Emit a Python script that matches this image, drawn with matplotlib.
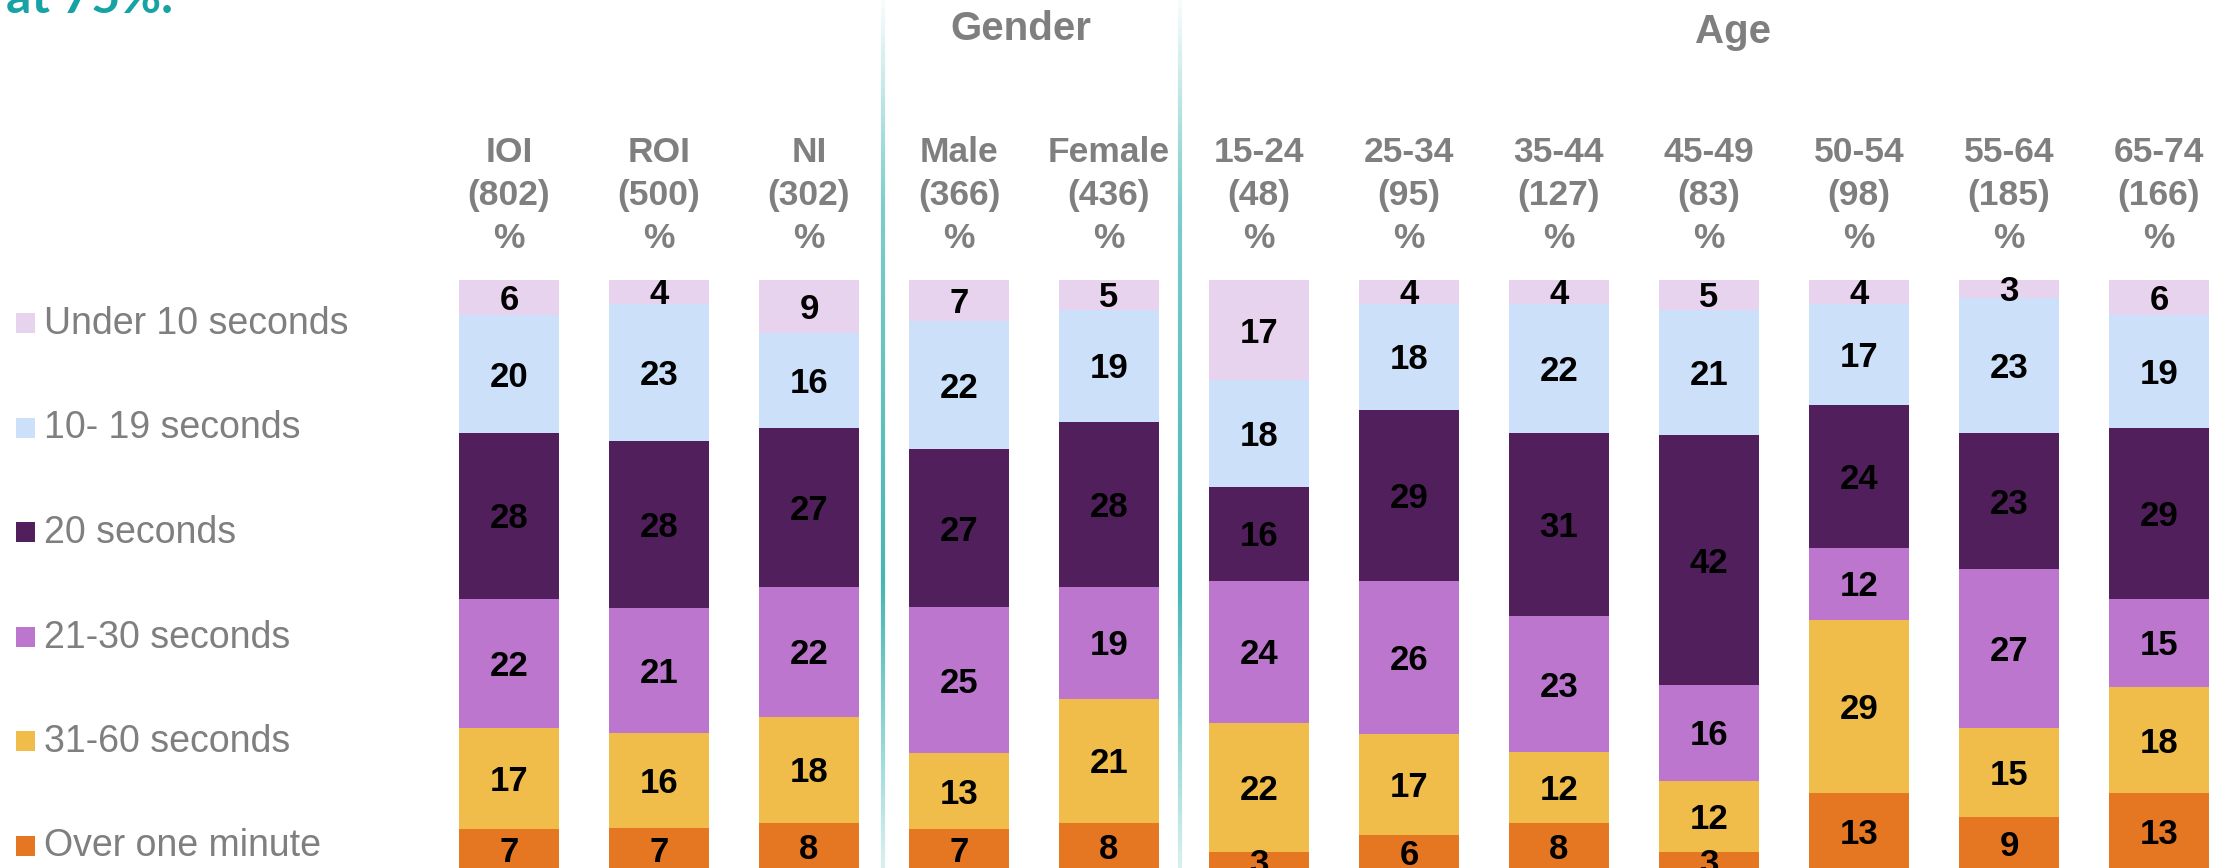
import matplotlib
matplotlib.use('Agg')
import matplotlib.pyplot as plt
import numpy as np
from matplotlib.patches import Rectangle
from matplotlib.collections import LineCollection
from matplotlib.transforms import blended_transform_factory

plt.rcParams['font.family'] = ['Liberation Sans', 'DejaVu Sans']

# 数据
columns = ['IOI', 'ROI', 'NI', 'Male', 'Female', '15-24', '25-34', '35-44', '45-49', '50-54', '55-64', '65-74']
bases = ['802', '500', '302', '366', '436', '48', '95', '127', '83', '98', '185', '166']
series_names = ['Under 10 seconds', '10- 19 seconds', '20 seconds', '21-30 seconds', '31-60 seconds', 'Over one minute']
under_10 = [6, 4, 9, 7, 5, 17, 4, 4, 5, 4, 3, 6]
sec_10_19 = [20, 23, 16, 22, 19, 18, 18, 22, 21, 17, 23, 19]
sec_20 = [28, 28, 27, 27, 28, 16, 29, 31, 42, 24, 23, 29]
sec_21_30 = [22, 21, 22, 25, 19, 24, 26, 23, 16, 12, 27, 15]
sec_31_60 = [17, 16, 18, 13, 21, 22, 17, 12, 12, 29, 15, 18]
over_1min = [7, 7, 8, 7, 8, 3, 6, 8, 3, 13, 9, 13]
groups = ['Gender', 'Age']

series = [under_10, sec_10_19, sec_20, sec_21_30, sec_31_60, over_1min]
colors = ['#e8d3ee', '#cce0fa', '#511f5b', '#bc76cd', '#f0bd4a', '#e67722']
grey = '#7f7f7f'
teal = '#17a3a3'

W, H = 2238, 868
fig = plt.figure(figsize=(W / 100, H / 100), dpi=100)
# 坐标轴: 柱顶在 y=280px, 100% 在 y=870px
ax = fig.add_axes([0, (H - 870) / H, 1, 590 / H])
ax.set_xlim(-509 / 150, (W - 509) / 150)
ax.set_ylim(100, 0)
ax.axis('off')

# 100% 堆叠柱
x = np.arange(len(columns))
totals = np.sum(np.array(series), axis=0)
cum = np.zeros(len(columns))
for vals, c in zip(series, colors):
    vals = np.array(vals)
    h = vals / totals * 100
    ax.bar(x, h, bottom=cum, width=100 / 150, color=c, linewidth=0)
    for xi, b, hh, v in zip(x, cum, h, vals):
        ax.annotate(str(v), (xi, b + hh / 2), xytext=(0, -9), textcoords='offset points',
                    ha='center', va='baseline', fontsize=25, fontweight='bold',
                    color='black', annotation_clip=False)
    cum += h

# 列标题
tr = blended_transform_factory(ax.transData, fig.transFigure)
for xi, col, n in zip(x, columns, bases):
    for line, yb in zip([col, '(%s)' % n, '%'], [161.5, 205, 248]):
        ax.text(xi, 1 - yb / H, line, transform=tr, ha='center', va='baseline',
                fontsize=25.5, fontweight='bold', color=grey)

# 分组标题
fig.text(1021 / W, 1 - 40.5 / H, groups[0], ha='center', va='baseline',
         fontsize=29, fontweight='bold', color=grey)
fig.text(1733 / W, 1 - 43 / H, groups[1], ha='center', va='baseline',
         fontsize=29, fontweight='bold', color=grey)

# 分隔线 (渐变)
ys = np.linspace(0, H, 120)
alpha = np.interp(ys, [0, 200, 580, H], [0.03, 0.55, 0.8, 0.15])
for xpx in [883, 1180]:
    segs = [[(xpx / W, 1 - a / H), (xpx / W, 1 - b / H)] for a, b in zip(ys[:-1], ys[1:])]
    cols = [(0.09, 0.64, 0.64, a) for a in alpha[:-1]]
    lc = LineCollection(segs, colors=cols, linewidths=3, transform=fig.transFigure)
    fig.add_artist(lc)

# 图例
for k, (name, c) in enumerate(zip(series_names, colors)):
    yc = 323 + 104.5 * k
    fig.add_artist(Rectangle((16 / W, 1 - (yc + 10) / H), 19 / W, 20 / H,
                             transform=fig.transFigure, color=c, linewidth=0))
    fig.text(44 / W, 1 - (yc + 11) / H, name, ha='left', va='baseline',
             fontsize=27, color=grey)

# 被裁掉的标题尾部
fig.text(173 / W, 1 - 13 / H, 'at 75%.', ha='right', va='baseline',
         fontsize=36, fontweight='bold', color=teal, family=['Lato', 'DejaVu Sans'])

fig.savefig('out.png', dpi=100)
